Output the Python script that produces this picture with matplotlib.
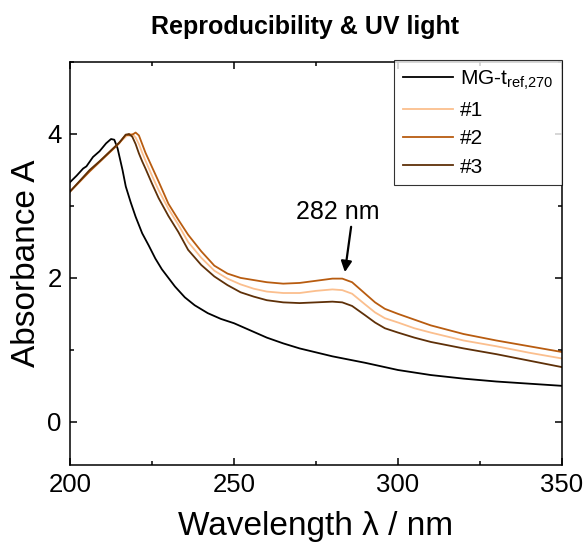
import matplotlib
matplotlib.use("Agg")
import matplotlib.pyplot as plt
from matplotlib.ticker import MultipleLocator

plt.rcParams['font.family'] = ['Liberation Sans', 'DejaVu Sans']
plt.rcParams['mathtext.fontset'] = 'custom'
plt.rcParams['mathtext.rm'] = 'Liberation Sans'
plt.rcParams['mathtext.it'] = 'Liberation Sans'

# ---- data ----
wl_ref = [200, 202, 204, 205, 207, 209, 211, 212.5, 213.5, 214.5, 216, 217, 218.5, 220,
          222, 224, 226, 228, 230, 232, 235, 238, 242, 246, 250, 257, 260, 265, 270,
          280, 290, 300, 310, 320, 330, 340, 350]
a_ref = [3.33, 3.42, 3.52, 3.55, 3.68, 3.76, 3.87, 3.93, 3.92, 3.80, 3.50, 3.27, 3.05,
         2.85, 2.62, 2.45, 2.27, 2.12, 2.00, 1.88, 1.73, 1.62, 1.51, 1.43, 1.37, 1.23,
         1.17, 1.09, 1.02, 0.91, 0.82, 0.72, 0.65, 0.60, 0.56, 0.53, 0.50]

wl = [200, 203, 206, 209, 212, 215, 217, 218, 219, 220, 221, 222, 223, 225, 227, 230,
      233, 236, 240, 244, 248, 252, 256, 260, 265, 270, 275, 280, 283, 286, 290, 293,
      296, 300, 305, 310, 320, 330, 340, 350]
a_1 = [3.20, 3.34, 3.49, 3.62, 3.75, 3.88, 3.96, 4.00, 4.00, 3.95, 3.86, 3.74, 3.63,
       3.42, 3.22, 2.96, 2.74, 2.50, 2.28, 2.10, 1.99, 1.91, 1.85, 1.81, 1.79, 1.79,
       1.82, 1.84, 1.83, 1.78, 1.63, 1.52, 1.44, 1.38, 1.30, 1.24, 1.13, 1.05, 0.96,
       0.88]
a_2 = [3.20, 3.34, 3.48, 3.61, 3.74, 3.87, 3.99, 3.98, 3.99, 4.02, 3.98, 3.86, 3.74,
       3.54, 3.34, 3.03, 2.81, 2.60, 2.37, 2.17, 2.06, 2.00, 1.97, 1.94, 1.92, 1.93,
       1.96, 1.99, 1.99, 1.94, 1.78, 1.66, 1.57, 1.50, 1.42, 1.34, 1.22, 1.13, 1.05,
       0.97]
a_3 = [3.20, 3.35, 3.50, 3.62, 3.75, 3.88, 3.99, 4.00, 3.96, 3.86, 3.73, 3.62, 3.52,
       3.31, 3.11, 2.86, 2.64, 2.39, 2.18, 2.02, 1.90, 1.80, 1.74, 1.69, 1.66, 1.65,
       1.66, 1.67, 1.66, 1.61, 1.48, 1.38, 1.30, 1.24, 1.17, 1.11, 1.02, 0.94, 0.85,
       0.76]

labels = ["MG-t$_{\\mathrm{ref{,}270}}$", "#1", "#2", "#3"]
colors = ["#000000", "#fbbf8e", "#b85c10", "#5e3008"]
title = "Reproducibility & UV light"
peak_label = "282 nm"
peak_xy = (283.8, 2.08)
arrow_start = (285.7, 2.71)
label_xy = (281.7, 2.92)

# ---- figure ----
fig = plt.figure(figsize=(5.85, 5.45), dpi=100)
ax = fig.add_axes([0.1197, 0.1468, 0.841, 0.7394])

ax.plot(wl_ref, a_ref, color=colors[0], lw=1.3, label=labels[0])
ax.plot(wl, a_1, color=colors[1], lw=1.3, label=labels[1])
ax.plot(wl, a_2, color=colors[2], lw=1.3, label=labels[2])
ax.plot(wl, a_3, color=colors[3], lw=1.3, label=labels[3])

ax.set_xlim(200, 350)
ax.set_ylim(-0.6, 5.0)
ax.xaxis.set_major_locator(MultipleLocator(50))
ax.xaxis.set_minor_locator(MultipleLocator(25))
ax.yaxis.set_major_locator(MultipleLocator(2))
ax.yaxis.set_minor_locator(MultipleLocator(1))
ax.tick_params(which='both', direction='in', top=True, right=True, width=1.1)
ax.tick_params(which='major', length=5, labelsize=18.5, pad=6)
ax.tick_params(which='minor', length=3)
for s in ax.spines.values():
    s.set_linewidth(1.1)

ax.set_xlabel("Wavelength λ / nm", fontsize=24, labelpad=10)
ax.set_ylabel("Absorbance A", fontsize=24, labelpad=4)
fig.suptitle(title, fontsize=18, fontweight='bold', x=0.522, y=0.973)

ax.text(label_xy[0], label_xy[1], peak_label, fontsize=18, ha='center', va='center')
ax.annotate('', xy=peak_xy, xytext=arrow_start,
            arrowprops=dict(arrowstyle='-|>', color='black', lw=1.6,
                            shrinkA=0, shrinkB=0, mutation_scale=16))

leg = ax.legend(loc='upper right', bbox_to_anchor=(1.0, 1.005), fontsize=15,
                frameon=True, fancybox=False, edgecolor='black',
                handlelength=2.4, borderpad=0.4, labelspacing=0.45,
                handletextpad=0.35, borderaxespad=0)
leg.get_frame().set_linewidth(0.8)

fig.savefig("out.png", dpi=100)
